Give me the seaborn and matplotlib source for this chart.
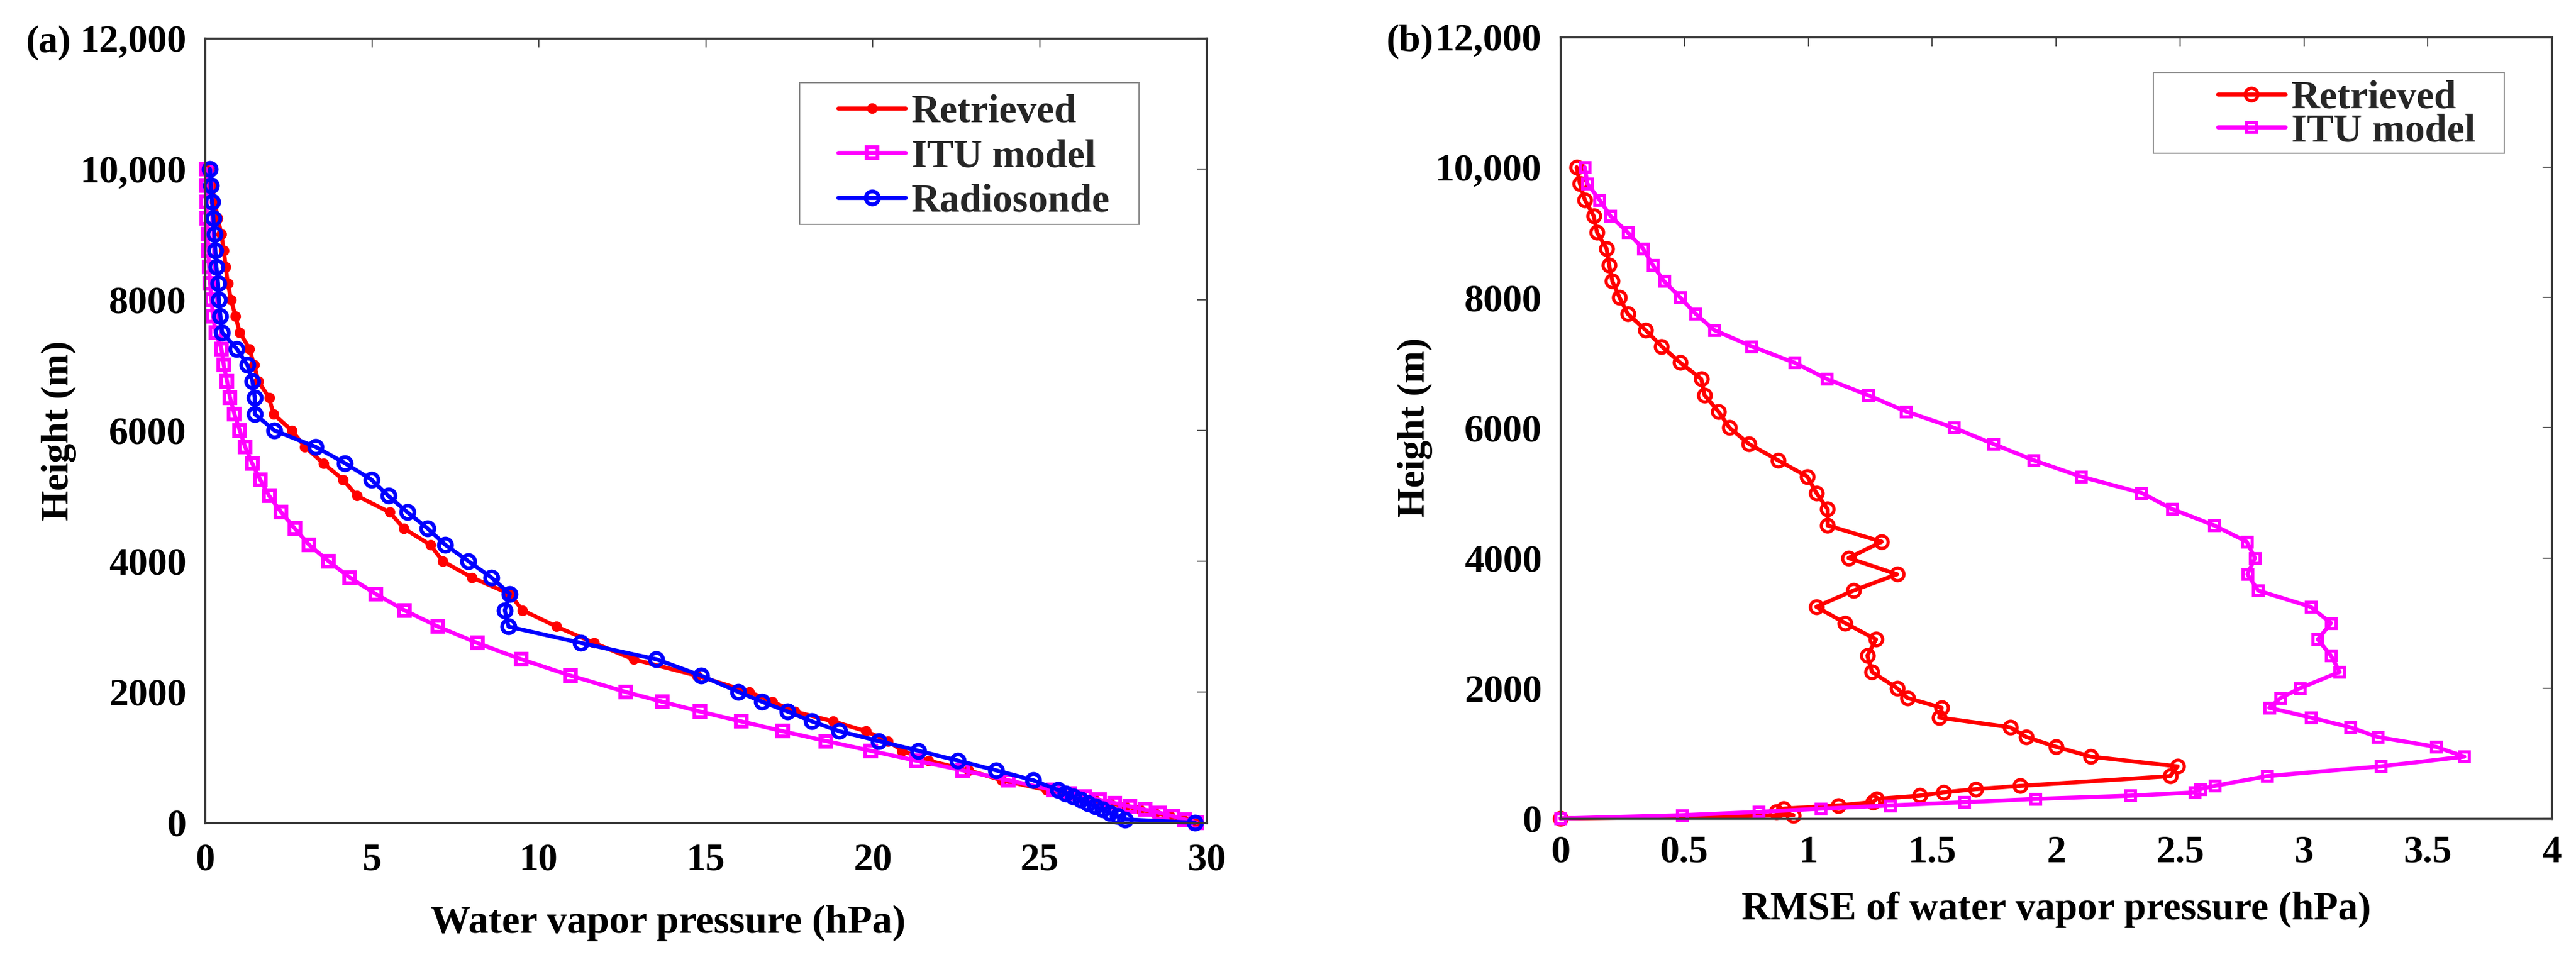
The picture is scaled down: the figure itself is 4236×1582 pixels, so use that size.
import pandas as pd
import seaborn as sns
import matplotlib.pyplot as plt
from matplotlib.patches import Rectangle

# Height levels (m), shared by all profiles
heights = [0, 50, 100, 150, 200, 250, 300, 350, 400, 450, 500,
           650, 800, 950, 1100, 1250, 1400, 1550, 1700, 1850, 2000,
           2250, 2500, 2750, 3000, 3250, 3500, 3750, 4000, 4250, 4500,
           4750, 5000, 5250, 5500, 5750, 6000, 6250, 6500, 6750, 7000,
           7250, 7500, 7750, 8000, 8250, 8500, 8750, 9000, 9250, 9500,
           9750, 10000]

# (a) water vapor pressure profiles (hPa)
retrieved_wvp = [29.7, 29.3, 28.9, 28.45, 28.0, 27.55, 27.1, 26.65, 26.2, 25.7, 25.2,
                 23.86, 22.88, 21.67, 20.88, 20.46, 19.79, 18.82, 17.66, 17.0, 16.3,
                 14.73, 12.83, 11.65, 10.53, 9.51, 9.12, 8.0, 7.12, 6.75, 5.96,
                 5.53, 4.55, 4.13, 3.54, 2.99, 2.60, 2.05, 1.92, 1.60, 1.47,
                 1.33, 1.04, 0.91, 0.78, 0.68, 0.62, 0.56, 0.49, 0.38, 0.29,
                 0.20, 0.13]
itu_wvp = [29.7, 29.35, 29.0, 28.6, 28.15, 27.7, 27.25, 26.8, 26.35, 25.9, 25.4,
           24.06, 22.7, 21.3, 19.94, 18.6, 17.3, 16.06, 14.83, 13.7, 12.6,
           10.95, 9.47, 8.15, 6.98, 5.97, 5.11, 4.34, 3.70, 3.12, 2.69,
           2.28, 1.92, 1.65, 1.41, 1.20, 1.04, 0.88, 0.75, 0.66, 0.56,
           0.49, 0.32, 0.24, 0.19, 0.15, 0.12, 0.10, 0.08, 0.06, 0.05,
           0.04, 0.03]
radiosonde_wvp = [29.65, 27.56, 27.33, 27.1, 26.88, 26.66, 26.44, 26.22, 26.0, 25.78, 25.55,
                  24.8, 23.7, 22.55, 21.37, 20.18, 19.0, 18.18, 17.45, 16.69, 15.98,
                  14.86, 13.52, 11.26, 9.09, 8.98, 9.13, 8.58, 7.89, 7.20, 6.67,
                  6.06, 5.49, 4.98, 4.19, 3.31, 2.08, 1.49, 1.49, 1.42, 1.27,
                  0.95, 0.51, 0.46, 0.41, 0.39, 0.34, 0.31, 0.28, 0.25, 0.21,
                  0.17, 0.15]

# (b) RMSE of water vapor pressure (hPa)
retrieved_rmse = [0.0, 0.94, 0.87, 0.90, 1.12, 1.26, 1.275, 1.45, 1.545, 1.675, 1.855,
                  2.46, 2.49, 2.14, 2.0, 1.88, 1.815, 1.528, 1.538, 1.40, 1.358,
                  1.257, 1.238, 1.273, 1.149, 1.032, 1.182, 1.358, 1.162, 1.296, 1.078,
                  1.078, 1.032, 0.996, 0.878, 0.761, 0.682, 0.637, 0.581, 0.568, 0.483,
                  0.408, 0.343, 0.271, 0.238, 0.209, 0.196, 0.186, 0.147, 0.134, 0.098,
                  0.078, 0.065]
itu_rmse = [0.0, 0.49, 0.80, 1.05, 1.33, 1.63, 1.915, 2.30, 2.56, 2.58, 2.64,
            2.85, 3.31, 3.647, 3.533, 3.298, 3.187, 3.027, 2.86, 2.906, 2.984,
            3.144, 3.109, 3.056, 3.109, 3.027, 2.815, 2.772, 2.802, 2.769, 2.638,
            2.469, 2.344, 2.10, 1.91, 1.747, 1.587, 1.394, 1.241, 1.074, 0.944,
            0.771, 0.62, 0.545, 0.483, 0.418, 0.372, 0.333, 0.271, 0.202, 0.157,
            0.108, 0.098]

y_ticks = [0, 2000, 4000, 6000, 8000, 10000, 12000]
y_tick_labels = ['0', '2000', '4000', '6000', '8000', '10,000', '12,000']
xa_ticks = [0, 5, 10, 15, 20, 25, 30]
xb_ticks = [0, 0.5, 1, 1.5, 2, 2.5, 3, 3.5, 4]
xb_tick_labels = ['0', '0.5', '1', '1.5', '2', '2.5', '3', '3.5', '4']

df_a = pd.DataFrame({'Height': heights, 'Retrieved': retrieved_wvp,
                     'ITU model': itu_wvp, 'Radiosonde': radiosonde_wvp})
df_b = pd.DataFrame({'Height': heights, 'Retrieved': retrieved_rmse,
                     'ITU model': itu_rmse})

sns.set_theme(style="white")
plt.rcParams['font.family'] = ['Liberation Serif', 'DejaVu Serif']
plt.rcParams['font.weight'] = 'bold'
plt.rcParams['axes.labelweight'] = 'bold'

FS = 46

fig = plt.figure(figsize=(42.36, 15.82), dpi=100)
ax_a = fig.add_axes([0.0796, 0.1448, 0.3888, 0.8154])
ax_b = fig.add_axes([0.6058, 0.1492, 0.3848, 0.8123])

common = dict(orient='y', sort=False, estimator=None, linewidth=4.8, clip_on=False)

# panel (a)
sns.lineplot(data=df_a, x='Retrieved', y='Height', ax=ax_a, color='#ff0000',
             marker='o', markersize=11.5, markerfacecolor='#ff0000',
             markeredgecolor='#ff0000', markeredgewidth=1, label='Retrieved', **common)
sns.lineplot(data=df_a, x='ITU model', y='Height', ax=ax_a, color='#ff00ff',
             marker='s', markersize=13, markerfacecolor='none',
             markeredgecolor='#ff00ff', markeredgewidth=4.5, label='ITU model', **common)
sns.lineplot(data=df_a, x='Radiosonde', y='Height', ax=ax_a, color='#0000ff',
             marker='o', markersize=15.5, markerfacecolor='none',
             markeredgecolor='#0000ff', markeredgewidth=4.5, label='Radiosonde', **common)

# panel (b)
sns.lineplot(data=df_b, x='Retrieved', y='Height', ax=ax_b, color='#ff0000',
             marker='o', markersize=15, markerfacecolor='none',
             markeredgecolor='#ff0000', markeredgewidth=3.8, label='Retrieved', **common)
sns.lineplot(data=df_b, x='ITU model', y='Height', ax=ax_b, color='#ff00ff',
             marker='s', markersize=12, markerfacecolor='none',
             markeredgecolor='#ff00ff', markeredgewidth=3.8, label='ITU model', **common)

for ax, xt, xl in [(ax_a, xa_ticks, [str(t) for t in xa_ticks]),
                   (ax_b, xb_ticks, xb_tick_labels)]:
    ax.set_ylim(0, 12000)
    ax.set_xlim(xt[0], xt[-1])
    ax.set_xticks(xt, labels=xl)
    ax.set_yticks(y_ticks, labels=y_tick_labels)
    ax.tick_params(direction='in', length=11, width=1.5, color='#555555',
                   top=True, right=True, labelsize=FS, labelcolor='black')
    ax.tick_params(axis='y', pad=22)
    for sp in ax.spines.values():
        sp.set_color('#3a3a3a')
        sp.set_linewidth(2.5)

ax_a.tick_params(axis='x', pad=24)
ax_b.tick_params(axis='x', pad=20)

ax_a.set_xlabel('Water vapor pressure (hPa)', fontsize=47.5, color='black')
ax_b.set_xlabel('RMSE of water vapor pressure (hPa)', fontsize=47, color='black')
ax_a.set_ylabel('Height (m)', fontsize=FS, color='black')
ax_b.set_ylabel('Height (m)', fontsize=FS, color='black')
ax_a.xaxis.set_label_coords(0.462, -0.105)
ax_b.xaxis.set_label_coords(0.5, -0.093)
ax_a.yaxis.set_label_coords(-0.128, 0.5)
ax_b.yaxis.set_label_coords(-0.1288, 0.5)

# legends with a MATLAB-like box
leg_font = {'weight': 'bold', 'size': 47}
ax_a.legend(loc='upper left', bbox_to_anchor=(0.632, 0.929), frameon=False,
            borderpad=0, borderaxespad=0, handlelength=1.7, handletextpad=0.15,
            labelspacing=0.21, prop=leg_font)
ax_a.add_patch(Rectangle((0.594, 0.7628), 0.3386, 0.1806, transform=ax_a.transAxes,
                         facecolor='white', edgecolor='#8c8c8c', lw=1.5, zorder=4))
ax_b.legend(loc='upper left', bbox_to_anchor=(0.663, 0.9447), frameon=False,
            borderpad=0, borderaxespad=0, handlelength=1.7, handletextpad=0.15,
            labelspacing=-0.09, prop=leg_font)
ax_b.add_patch(Rectangle((0.598, 0.851), 0.354, 0.104, transform=ax_b.transAxes,
                         facecolor='white', edgecolor='#8c8c8c', lw=1.5, zorder=4))

fig.text(0.0099, 1 - 63 / 1582, '(a)', fontsize=FS, fontweight='bold',
         ha='left', va='center_baseline', color='black')
fig.text(0.538, 1 - 61 / 1582, '(b)', fontsize=FS, fontweight='bold',
         ha='left', va='center_baseline', color='black')

fig.savefig('out.png', dpi=100)
